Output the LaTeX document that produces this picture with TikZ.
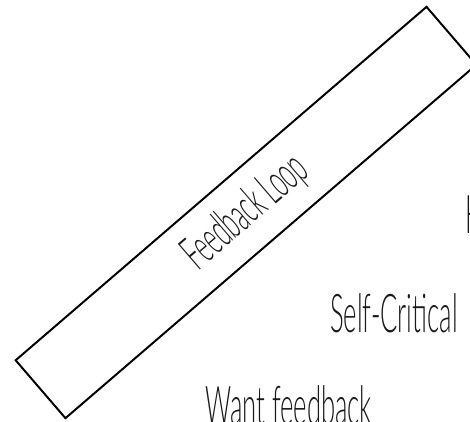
\documentclass[tikz,border=0pt]{standalone}
\usepackage{fontspec}
\usepackage{tikz}
\newfontfamily\thinfont{Lato Light}[FakeStretch=0.48]
\tikzset{
  lbl/.style={font=\thinfont\fontsize{38}{44}\selectfont, text=black!90, anchor=base west, inner sep=0pt},
}

\begin{document}
\begin{tikzpicture}[x=2.5mm,y=2.5mm]
\useasboundingbox (0,0) rectangle (47,42.1);
\clip (0,0) rectangle (47,42.1);
\node[draw, line width=1.4pt, rotate=40.7, minimum width=135.5mm, minimum height=19.1mm, inner sep=0pt, text=black!90, font=\thinfont\fontsize{34}{40}\selectfont] (loop) at (24.6,20.85) {Feedback Loop};
\node[lbl] (selfcrit) at (33.0,8.9) {Self-Critical};
\node[lbl] (wantfb) at (20.5,-0.3) {Want feedback};
\node[lbl] (hword) at (46.5,18.8) {H};
\end{tikzpicture}
\end{document}
